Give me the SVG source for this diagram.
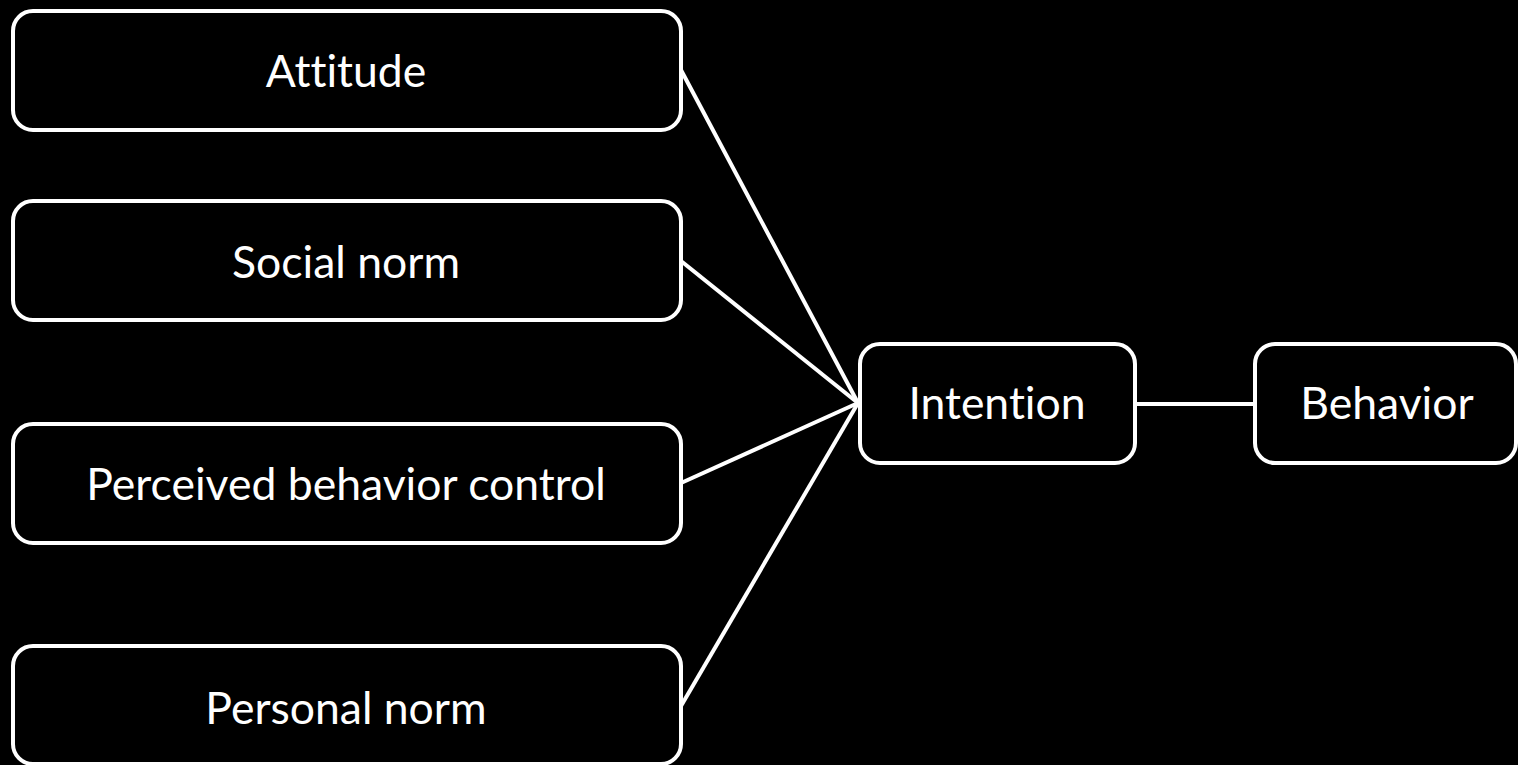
<svg xmlns="http://www.w3.org/2000/svg" width="1518" height="765" viewBox="0 0 1518 765">
<style>
.box{fill:#000;stroke:#fff;stroke-width:4}
.lbl{fill:#fff;font-family:Lato,"Open Sans",sans-serif;font-size:44.5px;text-anchor:middle;font-variant-ligatures:none}
.edge{stroke:#fff;stroke-width:4;fill:none}
</style>
<rect width="1518" height="765" fill="#000"/>
<g id="connectors">
<line class="edge" x1="681" y1="70" x2="858" y2="403"/>
<line class="edge" x1="681" y1="261" x2="858" y2="403"/>
<line class="edge" x1="681" y1="483" x2="858" y2="403"/>
<line class="edge" x1="681" y1="706" x2="858" y2="403"/>
<line class="edge" x1="1135" y1="404" x2="1255" y2="404"/>
</g>
<g id="attitude"><rect class="box" x="13" y="11" width="668" height="119" rx="20"/><text class="lbl" x="346" y="87">Attitude</text></g>
<g id="social"><rect class="box" x="13" y="201" width="668" height="119" rx="20"/><text class="lbl" x="346" y="278">Social norm</text></g>
<g id="pbc"><rect class="box" x="13" y="424" width="668" height="119" rx="20"/><text class="lbl" x="346" y="500">Perceived behavior control</text></g>
<g id="personal"><rect class="box" x="13" y="646" width="668" height="118" rx="20"/><text class="lbl" x="346" y="724">Personal norm</text></g>
<g id="intention"><rect class="box" x="860" y="344" width="275" height="119" rx="20"/><text class="lbl" x="997" y="419">Intention</text></g>
<g id="behavior"><rect class="box" x="1255" y="344" width="261" height="119" rx="20"/><text class="lbl" x="1387" y="419">Behavior</text></g>
</svg>
